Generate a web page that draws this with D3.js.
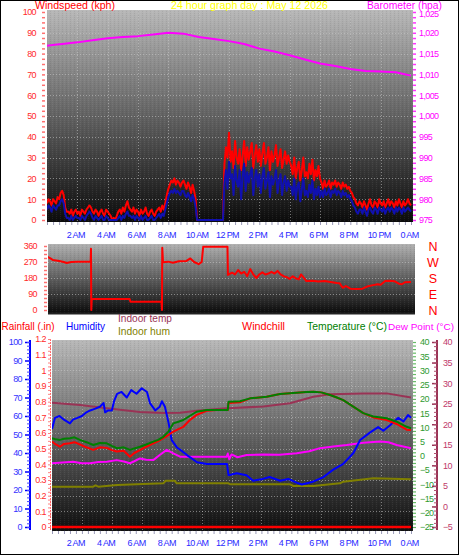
<!DOCTYPE html>
<html><head><meta charset="utf-8">
<script src="https://cdn.jsdelivr.net/npm/d3@7"></script>
<style>body{margin:0;background:#fff}svg{display:block}text{font-family:"Liberation Sans",Arial,sans-serif}</style>
</head><body><svg id="c" width="459" height="555"></svg>
<script>
// ---------------- DATA ----------------
const hourTicks = [2,4,6,8,10,12,14,16,18,20,22,24];
const hourLabels = ["2 AM","4 AM","6 AM","8 AM","10 AM","12 PM","2 PM","4 PM","6 PM","8 PM","10 PM","0 AM"];

// windspeed, one value every 6 minutes (0h..24h)
const windGust = [8,10,9,7,10,9,8,11,10,13,14, 12,6,4, 4,3,5,2,4,5,3,4,2,5,4,3, 5,6,7,6,4,
  3,5,4,2,4,5,3,2,5,4,3,2, 0,1,0,2,4, 5,3,6,4,7, 9,6,5, 4,6,3,5,4,2,5,3,4,6,3,2,4,5,3,2,4,
  5,6,4,7,5, 8,12,15,17,19,18,20, 17,19,18,16,18,19,17,15,18,16,13,17,14,10,
  0,0,0,0,0,0,0,0,0,0,0,0,0,0,0,0,0, 0,
  27,35,30,42,28,33,25,38,30,27,34,24,31,38,26,35,29,33,37,25,31,36,28,34,26,32,37,27,30,35,24,33,28,31,36,26,30,34,25,29,33,27,31,28,
  26,22,30,20,25,28,19,24,30,21,23,20,27,22,29,19,24,21,26,20,
  18,15,19,16,17,19,15,18,17,19,16,18,17,15,18,16,17,15,16,14,
  13,11,10,8,7,9,
  8,6,9,7,5,8,10,7,6,9,8,6,10,8,7,9,6,8,10,7,9,8,6,9,7,10,8,6,9,7,8,10,8,7];
const windAvg = [5,7,6,4,7,6,5,7,7,9,10, 8,3,1, 1,0,2,0,1,2,1,1,0,2,1,0, 2,3,4,3,1,
  0,2,1,0,1,2,0,0,2,1,0,0, 0,0,0,0,1, 2,0,2,1,3, 4,2,2, 1,2,0,2,1,0,2,0,1,2,0,0,1,2,0,0,1,
  2,3,1,3,2, 5,8,11,13,14,13,15, 13,14,13,12,14,14,12,11,13,11,9,12,10,6,
  0,0,0,0,0,0,0,0,0,0,0,0,0,0,0,0,0, 0,
  18,24,15,28,20,22,12,26,19,16,24,10,21,27,14,23,18,22,25,12,20,24,16,22,13,21,25,15,19,23,11,21,17,20,24,13,19,22,12,18,21,14,19,16,
  16,12,20,10,16,18,9,15,20,12,14,11,17,13,19,10,15,12,16,11,
  14,11,15,12,13,15,11,14,13,15,12,14,13,11,14,12,13,11,12,10,
  9,7,6,4,3,5,
  5,3,6,4,2,5,6,4,3,6,5,3,6,5,4,6,3,5,6,4,6,5,3,6,4,6,5,3,6,4,5,6,5,4];

const baroHours = [0, 0.5, 1, 2, 3, 4, 5, 6, 7, 8, 9, 10, 11, 12, 13, 14, 15, 16, 17, 18, 19, 20, 21, 22, 23, 23.5, 24];
const baroValues = [1016.9,1017.1,1017.3,1017.7,1018.2,1018.7,1019.0,1019.2,1019.6,1020.0,1019.8,1019.0,1018.5,1018.0,1017.3,1016.2,1015.5,1014.6,1013.6,1012.6,1012.0,1011.3,1010.8,1010.7,1010.5,1010.1,1009.7];

const dirHours = [0,0.2,0.4,0.8,1.1,1.3,1.6,2.0,2.5,2.88,2.9,2.92,2.95,4.0,5.45,5.5,6.5,7.55,7.58,7.6,7.65,8.0,8.3,8.7,9.2,9.45,9.7,10.0,10.2,10.3,11.0,11.9,11.93,
  12.2,12.4,12.6,12.8,13.0,13.2,13.4,13.6,13.8,14.0,14.2,14.4,14.6,14.8,15.0,15.2,15.4,15.6,15.8,16.0,16.2,16.4,16.6,16.75,16.9,17.1,17.5,17.9,18.3,18.7,19.1,19.3,19.5,19.7,20.0,20.4,20.8,21.1,21.5,21.8,22.0,22.3,22.6,22.9,23.2,23.4,23.6,24];
const dirDegrees = [300,292,281,276,270,264,270,272,272,272,345,0,62,62,62,47,47,47,0,350,268,272,266,274,276,290,270,258,270,356,356,356,197,
  210,200,225,205,215,190,230,200,180,200,212,200,205,215,205,220,200,190,185,175,190,178,172,200,185,163,165,160,163,158,152,150,125,135,120,118,120,132,140,145,142,163,165,162,148,145,156,158];

const humHours = [0,0.2,0.5,0.8,1.2,1.4,1.7,2.0,2.3,2.55,2.9,3.2,3.45,3.55,3.75,4.0,4.15,4.35,4.65,5.0,5.3,5.65,6.0,6.35,6.55,6.9,7.2,7.35,7.55,7.8,8.0,8.35,8.7,9.0,9.7,10.35,11.7,11.8,12.35,13.0,13.45,14.1,14.55,15.25,15.8,16.35,16.7,17.45,18.15,18.8,19.45,20.15,20.6,21.25,21.8,22.15,22.6,23.15,23.5,23.8,24];
const humValues = [53,59,60,58,56,58,59,60,62,63,64,65,67,62,63,63,68,72,73,70,74,72,75,73,67,63,65,68,65,56,47,43,41,39,35,34,34,28,29,28,25,26,27,25,26,24,23,24.5,27,31,34,40,47,51,54,52,55,59,57,60.5,59];

const tempHours = [0,0.25,0.53,0.8,1.2,1.5,1.87,2.3,2.76,3.2,3.66,4.0,4.33,4.8,5.21,5.5,5.88,6.3,6.77,7.1,7.44,7.8,8.11,8.45,8.78,9.2,9.67,10.34,11.0,11.75,11.8,12.57,13.24,14.35,15.24,16.36,17.0,17.47,18.0,18.59,19.0,19.47,20.14,20.81,21.48,22.38,23.04,23.71,24];
const tempValues = [6.2,5.8,5.6,6.0,6.2,6.5,5.6,4.8,3.8,4.5,4.4,3.5,2.7,3.0,2.1,2.6,3.2,4.0,5.0,5.6,6.7,8.6,11.4,12.0,12.6,14.0,15.5,16.1,16.1,16.1,19.0,19.2,20.2,20.8,21.7,22.2,22.4,22.5,22.3,21.4,20.6,19.6,17.3,15.0,13.8,13.2,12.0,10.2,9.7];
const windchillValues = [5.0,4.0,3.2,4.2,4.4,4.8,4.0,3.0,2.1,3.0,2.8,2.0,1.5,1.8,-0.3,1.0,2.0,3.2,4.4,5.2,6.2,7.4,8.5,9.4,10.2,12.5,14.4,15.8,16.1,16.1,18.6,18.8,20.2,20.8,21.7,22.2,22.4,22.5,22.3,21.4,20.6,19.6,17.3,15.0,13.5,12.6,11.2,9.2,9.1];

const dewHours = [0,0.7,1.42,2.0,2.54,3.1,3.66,4.33,4.8,5.21,5.5,5.88,6.3,6.77,7.2,7.67,8.11,8.56,9.67,11.68,11.75,11.85,12.0,12.4,13.02,14.13,15.2,16.36,17.2,17.92,18.8,19.7,20.81,21.93,22.5,23.04,24];
const dewValues = [-2.6,-2.3,-2.1,-2.6,-2.6,-2.2,-2.1,-1.5,-2.0,-2.6,-1.9,-0.9,-1.4,-1.5,0.3,2.1,0.9,-0.3,-0.3,-0.3,0.8,-1.2,0.5,-0.5,0.3,0.5,0.4,0.9,1.6,2.7,3.3,3.8,4.6,5.0,4.8,3.8,2.7];

const inTempHours = [0,1.87,3.66,5.88,7.44,8.56,9.67,11.68,14.13,15.91,17.47,18.59,20.81,22.38,24];
const inTempValues = [25.2,24.7,23.9,23.0,22.7,22.8,23.3,23.9,24.3,25.1,26.7,27.3,27.5,27.5,26.5];

const inHumHours = [0,2.76,2.9,3.1,4.33,7.44,7.6,8.2,8.34,11.8,11.9,15.91,16.13,17.47,19.25,19.47,21.48,24];
const inHumValues = [21.8,21.8,22.5,21.8,22.7,23.6,25.0,25.0,23.6,23.6,23.1,23.1,22.2,22.2,23.6,24.5,26.3,25.8];

const rainHours = [0,24];
const rainValues = [0,0];

const dirLetters = ["N","W","S","E","N"];

// ---------------- DRAW ----------------
const svg = d3.select("#c");
const defs = svg.append("defs");
function grad(id, top, bot){
  const g = defs.append("linearGradient").attr("id",id).attr("x1",0).attr("y1",0).attr("x2",0).attr("y2",1);
  g.append("stop").attr("offset","0%").attr("stop-color",top);
  g.append("stop").attr("offset","100%").attr("stop-color",bot);
}
grad("gTop","#b8b8b8","#0b0b0b");
grad("gMid","#b0b0b0","#0b0b0b");
grad("gBot","#b8b8b8","#0e0e0e");
const pat = defs.append("pattern").attr("id","dith").attr("width",4).attr("height",2).attr("patternUnits","userSpaceOnUse");
pat.append("rect").attr("x",0).attr("y",0).attr("width",1).attr("height",1).attr("fill","#fff").attr("opacity",0.07);
pat.append("rect").attr("x",2).attr("y",1).attr("width",1).attr("height",1).attr("fill","#000").attr("opacity",0.07);
function clip(id,x,y,w,h){defs.append("clipPath").attr("id",id).append("rect").attr("x",x).attr("y",y).attr("width",w).attr("height",h);}

svg.append("rect").attr("x",0.5).attr("y",0.5).attr("width",458).attr("height",554).attr("fill","#fff").attr("stroke","#000");

function panel(x,y,w,h,gid){
  svg.append("rect").attr("x",x).attr("y",y).attr("width",w).attr("height",h).attr("fill",`url(#${gid})`);
  svg.append("rect").attr("x",x).attr("y",y).attr("width",w).attr("height",h).attr("fill","url(#dith)");
}
const FONT = "Liberation Sans, Arial, sans-serif";
function styleAxis(g, color, tickColor, tw){
  g.attr("font-family",FONT).attr("font-size",9);
  g.select(".domain").remove();
  g.selectAll("text").attr("fill",color).style("letter-spacing","-0.6px");
  g.selectAll(".tick line").attr("stroke",tickColor||color).attr("stroke-width",tw||1.5);
}
function gridH(scale, vals, x0, x1){
  svg.append("g").selectAll("line").data(vals).join("line")
    .attr("x1",x0).attr("x2",x1).attr("y1",d=>Math.round(scale(d))+0.5).attr("y2",d=>Math.round(scale(d))+0.5)
    .attr("stroke","#c8c8c8").attr("stroke-opacity",0.55).attr("stroke-dasharray","1,2");
}
function gridV(scale, vals, y0, y1){
  svg.append("g").selectAll("line").data(vals).join("line")
    .attr("y1",y0).attr("y2",y1).attr("x1",d=>Math.round(scale(d))+0.5).attr("x2",d=>Math.round(scale(d))+0.5)
    .attr("stroke","#c8c8c8").attr("stroke-opacity",0.55).attr("stroke-dasharray","1,2");
}
function xLabels(scale, y){
  const g = svg.append("g").attr("transform",`translate(0,${y})`)
    .call(d3.axisBottom(scale).tickValues(hourTicks).tickFormat((d,i)=>hourLabels[i]).tickSize(0).tickPadding(0));
  styleAxis(g,"#2a2aff");
  g.selectAll("text").attr("dy",null).attr("y",0).attr("dx",-2);
}
function xMinor(scale, y){
  const g = svg.append("g").attr("transform",`translate(0,${y})`)
    .call(d3.axisBottom(scale).tickValues(d3.range(0,24.01,0.4)).tickSize(3).tickFormat(""));
  styleAxis(g,"#9a9ab8","#9a9ab8",1);
}
function plotLine(g, xs, ys, xScale, yScale, color, w){
  g.append("path").datum(xs.map((h,i)=>[h,ys[i]]))
    .attr("d", d3.line().x(d=>xScale(d[0])).y(d=>yScale(d[1])))
    .attr("fill","none").attr("stroke",color).attr("stroke-width",w||2).attr("stroke-linejoin","round");
}

// ======= TOP PANEL =======
const xTop = d3.scaleLinear([0,24],[47,411]);
const yWind = d3.scaleLinear([0,100],[220,12]);
const yBaro = d3.scaleLinear([975,1025],[220,12]);
panel(47,10,366,212,"gTop");
gridH(yWind, d3.range(10,100,10), 47, 413);
gridV(xTop, hourTicks.slice(0,11), 10, 222);
clip("cTop",47,10,366,212);
const gTop = svg.append("g").attr("clip-path","url(#cTop)");
const windHours = windGust.map((d,i)=>i*24/(windGust.length-1));
const avgHours = windAvg.map((d,i)=>i*24/(windAvg.length-1));
plotLine(gTop, windHours, windGust, xTop, yWind, "#ff0000", 2);
plotLine(gTop, avgHours, windAvg, xTop, yWind, "#1010b0", 2);
plotLine(gTop, baroHours, baroValues, xTop, yBaro, "#ff00ff", 2);

let g = svg.append("g").attr("transform","translate(36,0)")
  .call(d3.axisLeft(yWind).tickValues(d3.range(0,101,10)).tickSize(0).tickPadding(0));
styleAxis(g,"#ff2a2a");
g = svg.append("g").attr("transform","translate(45,0)")
  .call(d3.axisLeft(yWind).tickValues(d3.range(0,100.01,2.5)).tickSize(3).tickFormat(""));
styleAxis(g,"#ff7070");
g = svg.append("g").attr("transform","translate(419,0)")
  .call(d3.axisRight(yBaro).tickValues(d3.range(975,1026,5)).tickSize(0).tickPadding(0));
styleAxis(g,"#ff00ff");
g.selectAll(".tick").filter(d=>d===1025).select("text").attr("dy","0.55em");
g = svg.append("g").attr("transform","translate(413,0)")
  .call(d3.axisRight(yBaro).tickValues(d3.range(975,1025.01,1.25)).tickSize(3).tickFormat(""));
styleAxis(g,"#ff33ff");
xMinor(xTop, 222);
xLabels(xTop, 238);

function header(txt, x, y, color, len, fs){
  svg.append("text").attr("x",x).attr("y",y).attr("fill",color).attr("font-size",fs||11)
    .attr("font-family",FONT).attr("textLength",len).attr("lengthAdjust","spacingAndGlyphs").text(txt);
}
header("Windspeed (kph)", 35, 8.5, "#ff0000", 80);
header("24 hour graph day : May 12 2026", 171, 8.5, "#ffff00", 157);
header("Barometer (hpa)", 367, 8.5, "#ff00ff", 75);

// ======= MIDDLE PANEL =======
const yDir = d3.scaleLinear([0,360],[310,246]);
panel(48,244,367,69,"gMid");
gridH(yDir, [90,180,270], 48, 415);
svg.append("line").attr("x1",48).attr("x2",415).attr("y1",313.5).attr("y2",313.5).attr("stroke","#222").attr("stroke-width",2);
clip("cMid",48,243,367,71);
const gMid = svg.append("g").attr("clip-path","url(#cMid)");
plotLine(gMid, dirHours, dirDegrees, xTop, yDir, "#ff0000", 2);
g = svg.append("g").attr("transform","translate(37,0)")
  .call(d3.axisLeft(yDir).tickValues([0,90,180,270,360]).tickSize(0).tickPadding(0));
styleAxis(g,"#ff2a2a");
g = svg.append("g").attr("transform","translate(47,0)")
  .call(d3.axisLeft(yDir).tickValues(d3.range(0,360.1,22.5)).tickSize(3).tickFormat(""));
styleAxis(g,"#ff7070");
const gLet = svg.append("g").attr("transform","translate(433,0)")
  .call(d3.axisRight(yDir).tickValues([360,270,180,90,0]).tickFormat(d=>dirLetters[[360,270,180,90,0].indexOf(d)]).tickSize(0).tickPadding(0));
gLet.attr("font-family",FONT).attr("font-size",12.5);
gLet.select(".domain").remove();
gLet.selectAll("text").attr("fill","#ff0000").attr("text-anchor","middle");

// ======= BOTTOM PANEL =======
const xBot = d3.scaleLinear([0,24],[52,411]);
const yHum = d3.scaleLinear([0,100],[527,342]);
const yRain = d3.scaleLinear([0,1.2],[527,339]);
const yTemp = d3.scaleLinear([-25,40],[527,342]);
const yIn = d3.scaleLinear([-5,40],[527,342]);
panel(52,340,361,191,"gBot");
gridH(yRain, d3.range(0.1,1.15,0.1), 52, 413);
gridV(xBot, hourTicks.slice(0,11), 340, 531);
clip("cBot",52,338,361,193);
const gBot = svg.append("g").attr("clip-path","url(#cBot)");
plotLine(gBot, inHumHours, inHumValues, xBot, yHum, "#808000", 2);
plotLine(gBot, inTempHours, inTempValues, xBot, yIn, "#993355", 2);
plotLine(gBot, dewHours, dewValues, xBot, yTemp, "#ff00ff", 2);
plotLine(gBot, humHours, humValues, xBot, yHum, "#0000ff", 2);
plotLine(gBot, tempHours, windchillValues, xBot, yTemp, "#ff0000", 2);
plotLine(gBot, tempHours, tempValues, xBot, yTemp, "#008000", 2);
plotLine(gBot, rainHours, rainValues, xBot, yRain, "#ff0000", 2.5);

// humidity axis
svg.append("line").attr("x1",30).attr("x2",30).attr("y1",340).attr("y2",530).attr("stroke","#0000ff").attr("stroke-width",2);
g = svg.append("g").attr("transform","translate(22,0)")
  .call(d3.axisLeft(yHum).tickValues(d3.range(0,101,10)).tickSize(0).tickPadding(0));
styleAxis(g,"#3333ff");
g = svg.append("g").attr("transform","translate(30,0)")
  .call(d3.axisLeft(yHum).tickValues(d3.range(0,101,10)).tickSize(5).tickFormat(""));
styleAxis(g,"#0000ff","#0000ff",1.5);
g = svg.append("g").attr("transform","translate(30,0)")
  .call(d3.axisLeft(yHum).tickValues(d3.range(0,100.1,2)).tickSize(3).tickFormat(""));
styleAxis(g,"#4444ff","#4444ff",1);
// rainfall axis
svg.append("line").attr("x1",50.5).attr("x2",50.5).attr("y1",339).attr("y2",530).attr("stroke","#ff6060").attr("stroke-dasharray","2,1");
g = svg.append("g").attr("transform","translate(46,0)")
  .call(d3.axisLeft(yRain).tickValues(d3.range(0,1.21,0.1)).tickFormat(d=>d3.format("~g")(+d.toFixed(1))).tickSize(0).tickPadding(0));
styleAxis(g,"#ff2a2a");
g = svg.append("g").attr("transform","translate(51,0)")
  .call(d3.axisLeft(yRain).tickValues(d3.range(0,1.2001,0.025)).tickSize(3).tickFormat(""));
styleAxis(g,"#ff8080","#ff8080",1);
// temperature axis
g = svg.append("g").attr("transform","translate(420,0)")
  .call(d3.axisRight(yTemp).tickValues(d3.range(-25,41,5)).tickSize(0).tickPadding(0));
styleAxis(g,"#2f9a2f");
g = svg.append("g").attr("transform","translate(413,0)")
  .call(d3.axisRight(yTemp).tickValues(d3.range(-25,40.01,1.25)).tickSize(3).tickFormat(""));
styleAxis(g,"#66bb66","#66bb66",1.2);
// indoor temp axis
svg.append("line").attr("x1",437).attr("x2",437).attr("y1",340).attr("y2",530).attr("stroke","#993355").attr("stroke-width",2);
g = svg.append("g").attr("transform","translate(443,0)")
  .call(d3.axisRight(yIn).tickValues(d3.range(-5,41,5)).tickSize(0).tickPadding(0));
styleAxis(g,"#c03a6a");
g = svg.append("g").attr("transform","translate(437,0)")
  .call(d3.axisLeft(yIn).tickValues(d3.range(-5,41,5)).tickSize(5).tickFormat(""));
styleAxis(g,"#993355","#993355",1.5);
g = svg.append("g").attr("transform","translate(437,0)")
  .call(d3.axisLeft(yIn).tickValues(d3.range(-5,40.01,1)).tickSize(3).tickFormat(""));
styleAxis(g,"#b05070","#b05070",1);

xMinor(xBot, 531);
xLabels(xTop, 546);

header("Rainfall (.in)", 1.5, 329.5, "#ff0000", 53);
header("Humidity", 66, 329.5, "#0000ff", 39);
header("Indoor temp", 118, 322, "#993355", 54);
header("Indoor hum", 118, 334.5, "#808000", 52);
header("Windchill", 242, 329.5, "#ff0000", 43);
header("Temperature (°C)", 307, 329.5, "#008000", 80, 10.5);
header("Dew Point (°C)", 388, 329.5, "#ff00ff", 66, 9.8);
</script></body></html>
